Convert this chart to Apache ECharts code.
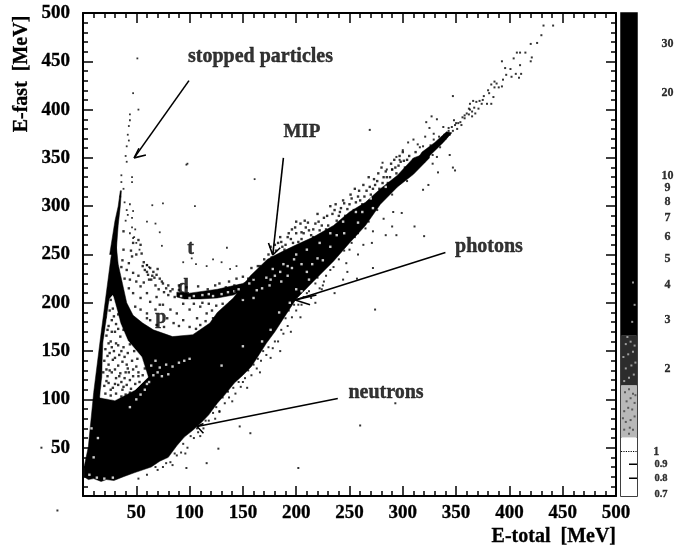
<!DOCTYPE html>
<html><head><meta charset="utf-8">
<style>html,body{margin:0;padding:0;background:#fff}#c{width:678px;height:548px}</style>
<script src="https://cdn.jsdelivr.net/npm/echarts@6/dist/echarts.min.js"></script>
</head><body><div id="c"></div>
<script>
const mainRegion=[[1,30],[1,20],[5,17],[10,18],[17,15],[22,17],[29,16],[38,20],[48,24],[64,30],[72,36],[80,40],[88,52],[95,61],[103,68],[111,76],[118,84],[126,96],[134,106],[142,117],[150,125],[158,134],[165,146],[172,158],[180,170],[187,182],[200,204],[216,222],[235,243],[250,262],[265,280],[279,302],[295,320],[310,333],[325,350],[325,356],[310,350],[295,332],[279,318],[265,304],[250,294],[235,280],[216,268],[200,260],[185,252],[173,245],[157,228],[141,205],[126,190],[119,179],[103,167],[84,165],[66,172],[56,179],[47,187],[41,200],[37,220],[33,240],[31,262],[29,266],[26,245],[17,169],[10,107],[5,51]];
const spine=[[25,250],[31,250],[33,280],[35,300],[36,316],[35,316],[33,300],[30,285]];
const tailStrand=[[312,346],[325,352],[338,366],[346,376],[341,377],[330,366],[318,356]];
const dBand=[[88,211],[100,210],[126,214],[150,220],[165,230],[165,224],[150,213],[141,208],[126,205],[110,204],[95,204],[88,206]];
const holeRegion=[[28,208],[32,192],[35,179],[42,161],[55,144],[61,123],[49,110],[30,99],[16,102],[18,123],[19,158],[23,189],[25,204]];

const holeDots=[[21,185],[24,176],[27,182],[30,170],[22,166],[26,160],[31,158],[35,165],[21,152],[25,148],[29,150],[34,146],[38,154],[42,148],[20,140],[24,136],[28,141],[33,135],[37,139],[41,136],[46,140],[50,134],[19,128],[23,124],[27,128],[31,122],[35,127],[39,122],[43,128],[47,124],[52,128],[56,125],[20,114],[24,117],[28,112],[33,115],[37,110],[41,115],[45,111],[49,116],[53,118],[21,106],[26,104],[31,106],[36,103],[40,105],[44,107],[28,194],[26,203],[29,208],[58,132],[24,158],[38,172],[31,178],[44,157],[48,150],[33,188],[27,170],[23,145],[30,131],[36,118],[44,120],[39,144],[33,156],[22,131],[26,110],[51,142],[47,131],[25,192],[29,186],[23,172],[33,173],[27,154],[36,150],[30,143],[25,130],[34,124],[42,132],[38,113],[47,105],[52,124],[22,119],[30,116],[40,128]];
const gapDots=[[38,274],[47,262],[54,260],[52,265],[46,248],[50,250],[55,251],[38,255],[36,237],[43,241],[60,239],[63,236],[58,234],[66,232],[69,229],[61,229],[72,225],[64,224],[75,220],[50,222],[44,224],[39,225],[54,217],[60,210],[47,210],[43,215],[69,206],[63,201],[54,205],[49,196],[75,198],[82,212],[86,206],[68,193],[60,189],[54,193],[82,193],[94,199],[88,189],[100,193],[110,196],[116,189],[107,184],[94,182],[85,179],[69,177],[63,182],[60,184],[100,175],[110,177],[79,184],[72,198],[118,199],[125,197],[132,192],[128,189],[122,184],[138,200],[78,215],[80,208],[76,211],[68,218],[71,214],[65,228],[62,224],[70,235],[57,242],[90,218],[97,216],[108,217],[117,214],[128,220],[137,222],[144,225],[150,227],[158,236],[164,238],[45,254],[41,234],[37,244],[47,231],[52,228],[57,221],[80,218],[84,214],[74,222],[67,226],[60,232],[56,238],[90,213],[104,199],[112,200],[90,176],[76,175],[106,173],[115,181],[121,192],[131,199],[143,212],[150,205],[147,218],[155,225],[161,229],[142,218],[134,216],[124,218]];
const upperDots=[[47,267],[48,268],[50,262],[53,255],[46,278],[41,296],[42,291],[46,288],[60,284],[68,282],[72,273],[74,259],[60,239],[62,237],[102,246],[94,242],[122,245],[130,242],[135,257],[51,453],[52,400],[47,417],[44,389],[43,383],[42,374],[41,362],[41,346],[46,325],[46,330],[97,343],[98,344],[161,328],[65,301],[75,303],[105,300],[36,332],[36,325],[35,310],[40,352],[43,368],[44,395],[38,318],[39,304],[44,302],[47,295],[40,285],[44,272],[49,276],[106,240],[116,238],[138,235],[144,238]];
const mipDots=[[160,226],[165,232],[170,245],[174,250],[178,252],[183,262],[187,258],[192,268],[197,262],[200,272],[205,266],[209,278],[214,270],[218,282],[222,275],[226,288],[230,280],[234,292],[238,285],[242,298],[246,290],[250,302],[254,296],[258,310],[262,302],[266,316],[270,312],[274,322],[278,318],[282,330],[286,324],[290,338],[294,334],[298,346],[302,340],[306,352],[310,348],[280,340],[268,330],[255,318],[244,306],[232,300],[220,292],[208,285],[196,276],[185,268],[176,258],[300,356],[292,348],[181,254],[190,260],[194,255],[202,263],[207,272],[212,275],[216,268],[221,284],[228,276],[236,296],[240,290],[248,297],[252,308],[260,306],[264,310],[272,318],[276,326],[284,336],[288,330],[296,342],[304,348],[312,356],[193,272],[199,278],[204,282],[186,263],[189,255],[211,283],[216,276],[224,280],[229,290],[237,302],[241,294],[245,303],[251,312],[256,304],[259,316],[263,322],[269,320],[273,328],[277,334],[281,324],[285,330],[289,344],[293,340],[297,352],[301,347],[205,273],[195,266],[200,284],[180,260],[177,247],[171,240],[166,238]];
const tailDots=[[432,487],[441,487],[430,477],[420,468],[426,469],[407,459],[410,459],[415,459],[404,453],[421,454],[420,450],[393,450],[410,446],[396,443],[401,442],[406,437],[411,437],[397,436],[402,434],[409,433],[394,431],[386,429],[383,426],[390,423],[393,424],[386,423],[380,420],[347,414],[376,414],[385,413],[372,409],[369,408],[363,406],[379,406],[383,406],[362,401],[371,401],[365,398],[368,396],[358,391],[365,393],[354,387],[349,384],[346,382],[343,381],[327,393],[332,390],[322,387],[325,381],[344,374],[340,370],[335,367],[329,369],[321,372],[305,366],[310,369],[316,361],[294,351],[300,358],[297,348],[344,353],[332,351],[347,340],[349,337],[333,335],[328,344],[281,345],[285,338],[290,338],[352,386],[356,392],[360,396],[367,402],[374,406],[351,380],[347,378],[355,384],[362,395],[341,372],[337,371],[332,362],[329,375],[338,382],[314,364],[319,362],[348,389],[366,409],[375,410],[381,417],[388,427],[326,363],[334,372],[323,358],[343,378],[339,374],[350,386],[358,394],[363,400],[335,361],[328,353],[320,346],[313,341],[307,340]];
const fringeDots=[[70,27],[75,30],[82,35],[88,42],[92,45],[98,50],[104,60],[108,66],[113,70],[118,78],[122,86],[128,88],[133,96],[137,102],[143,106],[148,113],[152,122],[158,125],[163,132],[167,140],[172,146],[178,153],[183,160],[188,168],[192,176],[196,185],[200,192],[205,198],[210,210],[214,205],[218,220],[224,214],[228,228],[195,170],[204,185],[97,29],[116,34],[127,49],[157,65],[147,72],[128,87],[202,29],[274,193],[260,73],[293,96],[290,279],[311,279],[294,270],[284,270],[320,269],[271,262],[258,250],[247,241],[272,236],[235,237],[244,224],[236,210],[225,218],[222,215],[257,225],[250,255],[263,260],[319,317],[324,322],[269,379],[299,293],[291,294],[282,287],[272,274],[265,277],[238,252],[230,243],[242,262],[255,268],[208,222],[214,233],[248,232],[226,236],[218,200],[185,150],[176,143],[166,128],[154,112],[140,98],[124,80],[110,62],[96,44],[84,32],[60,22],[52,18],[-39,50],[-24,-15],[68,30],[78,34],[86,44],[94,54],[101,62],[107,70],[115,78],[120,90],[125,92],[131,102],[136,108],[141,112],[146,118],[150,118],[155,130],[160,136],[164,142],[169,150],[174,154],[180,160],[186,172],[190,184],[193,192],[198,198],[202,198],[207,206],[212,212],[220,226],[226,222],[232,234],[240,245],[245,254],[252,262],[258,272],[268,284],[276,296],[290,312],[304,326]];
const whiteSpecks=[[62,118],[66,125],[70,128],[58,110],[72,133],[80,126],[54,105],[90,138],[100,142],[64,135],[74,124],[84,134],[50,100],[44,92],[60,116],[168,215],[175,218],[180,228],[185,232],[192,238],[198,245],[205,240],[160,205],[150,203],[186,222],[172,226],[163,213],[192,228],[10,40],[14,60],[8,70],[6,22],[13,19],[20,18],[28,19],[100,205],[112,208],[122,207],[136,211],[92,207],[146,214],[195,190],[188,178],[192,185],[205,212],[212,224],[180,165],[225,244],[238,270],[262,294],[215,240],[130,135],[150,155],[104,207],[118,209],[130,209],[142,212],[156,220],[160,224],[178,235],[188,240],[200,250],[210,255],[222,262],[232,272],[244,284],[256,294],[270,308],[284,320],[210,232],[220,246],[232,258],[245,272],[258,283],[272,298],[200,214],[194,200],[184,190],[176,172],[168,160],[196,236],[176,224],[95,140],[78,136],[68,140]];

const cbBands=[[0.69,1.125,'#ffffff'],[1.125,1.74,'#b8b8b8'],[1.74,2.64,'#2c2c2c'],[2.64,38.8,'#000000']];
const cbSpecks=[[0.2,1.8],[0.5,1.85],[0.8,1.9],[0.3,2],[0.65,2.05],[0.9,2.1],[0.15,2.2],[0.45,2.25],[0.75,2.3],[0.3,2.45],[0.6,2.5],[0.85,2.42],[0.4,2.6],[0.7,2.95],[0.85,3.4],[0.75,4.1]];
const cbDark=[[0.2,1.2],[0.5,1.16],[0.75,1.2],[0.3,1.28],[0.6,1.3],[0.85,1.34],[0.2,1.4],[0.45,1.44],[0.7,1.42],[0.35,1.52],[0.6,1.56],[0.85,1.5],[0.25,1.64],[0.5,1.68],[0.75,1.62],[0.12,1.32],[0.9,1.6],[0.55,1.22]];
const cbTicks=[0.9,0.8];
const cbLabelsUpper=[30,20,10,9,8,7,6,5,4,3,2];
const cbLabelsLower=[1,0.9,0.8,0.7];

const arrows=[
 [[99.4,430],[48,350]],[[59,353],[48,350],[52.5,360]],
 [[188,350],[178,249.5]],[[174,262],[178,249.5],[185,257]],
 [[340,252],[199,203]],[[219,208],[199,203],[213,198]],
 [[239,101],[107,72]],[[113,65],[107,72],[113,75]]
];
const annotations=[[98.5,454.5,'stopped particles','left'],[188,377,'MIP','left'],[101,256,'t','center'],[94,216,'d','center'],[73,184,'p','center'],[349,258,'photons','left'],[249,107,'neutrons','left']];

const SERIF='"Liberation Serif","DejaVu Serif",serif';
const BLACK='#000';

function polySeries(polys,color){
  return {type:'custom',xAxisIndex:0,yAxisIndex:0,silent:true,clip:false,
    encode:{x:0,y:1},
    data:polys.map((p,i)=>[p[0][0],p[0][1],i]),
    renderItem:(params,api)=>{
      const p=polys[api.value(2)].map(q=>api.coord(q));
      return {type:'polygon',shape:{points:p},style:{fill:color,stroke:color,lineWidth:0.5}};
    }};
}
function dots(data,color,size){
  return {type:'scatter',xAxisIndex:0,yAxisIndex:0,silent:true,clip:false,data,symbol:'rect',symbolSize:size,
    itemStyle:{color},large:false,animation:false};
}
const series=[
  polySeries([mainRegion,spine,tailStrand,dBand],BLACK),
  polySeries([holeRegion],'#fff'),
  dots(whiteSpecks,'#fff',2.4),
  dots(holeDots,BLACK,2.4),
  dots(gapDots,BLACK,2.4),
  dots(upperDots,BLACK,1.8),
  dots(mipDots,BLACK,2.4),
  dots(tailDots,BLACK,2),
  dots(fringeDots,BLACK,2)
];
arrows.forEach(a=>series.push({type:'line',xAxisIndex:0,yAxisIndex:0,silent:true,data:a,symbol:'none',
  lineStyle:{color:BLACK,width:1.6},z:5}));
series.push({type:'scatter',xAxisIndex:0,yAxisIndex:0,silent:true,symbolSize:0,z:6,
  data:annotations.map(a=>({value:[a[0],a[1]],label:{show:true,position:'inside',formatter:a[2],align:a[3],verticalAlign:'middle',
    fontFamily:SERIF,fontWeight:'bold',fontSize:a[2]=='MIP'?19:20,color:BLACK,textBorderColor:BLACK,textBorderWidth:0.4}}))});
// colour bar
series.push({type:'custom',xAxisIndex:1,yAxisIndex:1,silent:true,clip:true,z:2,
  data:cbBands.map((b,i)=>[0,b[0],b[1],i]),encode:{x:0,y:1},
  renderItem:(params,api)=>{
    const a=api.coord([0,api.value(1)]),b=api.coord([1,api.value(2)]);
    return {type:'rect',shape:{x:a[0],y:b[1],width:b[0]-a[0],height:a[1]-b[1]},style:{fill:cbBands[api.value(3)][2]}};
  }});
series.push({type:'scatter',xAxisIndex:1,yAxisIndex:1,silent:true,z:3,data:cbSpecks,symbol:'rect',symbolSize:2,itemStyle:{color:'#bbb'}});
series.push({type:'scatter',xAxisIndex:1,yAxisIndex:1,silent:true,z:3,data:cbDark,symbol:'rect',symbolSize:2,itemStyle:{color:'#444'}});
cbTicks.forEach(t=>series.push({type:'line',xAxisIndex:1,yAxisIndex:1,silent:true,symbol:'none',data:[[0.5,t],[1,t]],lineStyle:{color:BLACK,width:1.5}}));
series.push({type:'line',xAxisIndex:1,yAxisIndex:1,silent:true,symbol:'none',data:[[0,1],[1,1]],lineStyle:{color:BLACK,width:1.2,type:'dotted'}});
function cbLabelSeries(vals,xpos){
  return {type:'scatter',xAxisIndex:1,yAxisIndex:1,silent:true,clip:false,symbolSize:0,
    data:vals.map(v=>({value:[xpos,v],label:{show:true,position:'inside',formatter:String(v),fontFamily:SERIF,fontWeight:'bold',
      fontSize:v<1?10.5:12,color:BLACK,textBorderColor:BLACK,textBorderWidth:0.3}}))};
}
series.push(cbLabelSeries(cbLabelsUpper,2.9));
series.push(cbLabelSeries([cbLabelsLower[0]],2.2));
series.push(cbLabelSeries(cbLabelsLower.slice(1),2.5));

const axisLab={fontFamily:SERIF,fontWeight:'bold',fontSize:19,color:BLACK,textBorderColor:BLACK,textBorderWidth:0.3,
  formatter:v=>v===0?'':String(v)};
const tickCommon={axisLine:{show:true,onZero:false,lineStyle:{color:BLACK,width:2}},
  axisTick:{show:true,inside:true,length:10,lineStyle:{color:BLACK,width:1.5}},
  minorTick:{show:true,splitNumber:5,length:5,lineStyle:{color:BLACK,width:1.5}},
  splitLine:{show:false},minorSplitLine:{show:false}};
const chart=echarts.init(document.getElementById('c'),null,{renderer:'canvas'});
chart.setOption({
  animation:false,backgroundColor:'#fff',
  grid:[{left:83,right:62,top:13,bottom:52,show:false},{left:621,right:41,top:13,bottom:52,show:true,borderColor:BLACK,borderWidth:1.5}],
  xAxis:[
    Object.assign({type:'value',gridIndex:0,min:0,max:500,interval:50,position:'bottom',
      name:'E-total  [MeV]',nameLocation:'end',nameGap:0,
      nameTextStyle:{fontFamily:SERIF,fontWeight:'bold',fontSize:20,color:BLACK,align:'right',verticalAlign:'top',padding:[31,0,0,0],textBorderColor:BLACK,textBorderWidth:0.3},
      axisLabel:Object.assign({},axisLab,{margin:8})},tickCommon),
    {type:'value',gridIndex:1,min:0,max:1,show:false},
    Object.assign({type:'value',gridIndex:0,min:0,max:500,interval:50,position:'top',axisLabel:{show:false}},tickCommon)
  ],
  yAxis:[
    Object.assign({type:'value',gridIndex:0,min:0,max:500,interval:50,position:'left',
      axisLabel:Object.assign({},axisLab,{margin:13})},tickCommon),
    {type:'log',gridIndex:1,min:0.69,max:38.8,show:false},
    Object.assign({type:'value',gridIndex:0,min:0,max:500,interval:50,position:'right',axisLabel:{show:false}},tickCommon)
  ],
  graphic:[{type:'text',x:22,y:74,rotation:Math.PI/2,style:{text:'E-fast  [MeV]',fontFamily:SERIF,fontWeight:'bold',fontSize:20,fill:BLACK,align:'center',verticalAlign:'middle',stroke:BLACK,lineWidth:0.3}}],
  series
});
</script></body></html>
